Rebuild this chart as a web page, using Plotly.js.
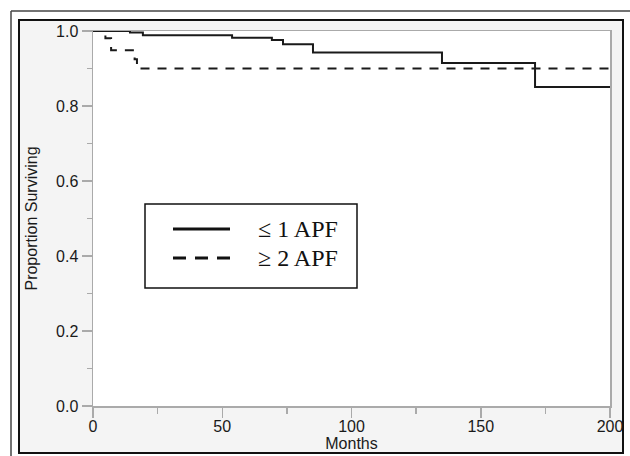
<!DOCTYPE html>
<html>
<head>
<meta charset="utf-8">
<script src="https://cdn.plot.ly/plotly-3.0.1.min.js"></script>
<style>html,body{margin:0;padding:0;background:#fff;}#chart{width:630px;height:456px;}</style>
</head>
<body>
<div id="chart"></div>
<script>
// Kaplan-Meier step data
const lowMonths = [0, 14.3, 19.3, 53.8, 69.2, 73.5, 85.1, 135.0, 171.0, 200];
const lowSurv   = [1.0, 0.996, 0.989, 0.982, 0.976, 0.965, 0.943, 0.915, 0.851, 0.851];
const highMonths = [0, 4.8, 7.0, 16.1, 17.0, 200];
const highSurv   = [1.0, 0.981, 0.949, 0.925, 0.900, 0.900];
const legendLabels = ["\u2264 1 APF", "\u2265 2 APF"];
const xTicks = [0, 50, 100, 150, 200];
const yTicks = [0, 0.2, 0.4, 0.6, 0.8, 1.0];

const W = 630, H = 456;
const M = {l: 93, r: 20, t: 31, b: 50};
const pw = W - M.l - M.r, ph = H - M.t - M.b;
const px = v => (v - M.l) / pw;
const py = v => (H - M.b - v) / ph;

const traces = [
  {x: lowMonths, y: lowSurv, mode: 'lines', line: {shape: 'hv', color: '#1a1a1a', width: 2}, name: legendLabels[0], hoverinfo: 'skip'},
  {x: highMonths, y: highSurv, mode: 'lines', line: {shape: 'hv', color: '#1a1a1a', width: 2, dash: '9px,8px'}, name: legendLabels[1], hoverinfo: 'skip'}
];

const shapes = [
  // inner grey panel with black frame
  {type: 'rect', xref: 'paper', yref: 'paper', x0: px(19), x1: px(623), y0: py(453), y1: py(20),
   fillcolor: '#f4f4f4', line: {color: '#111', width: 2}, layer: 'below'},
  // white plotting area
  {type: 'rect', xref: 'paper', yref: 'paper', x0: 0, x1: 1, y0: 0, y1: 1,
   fillcolor: '#ffffff', line: {width: 0}, layer: 'below'},
  // outer thin frame
  {type: 'line', xref: 'paper', yref: 'paper', x0: px(11), x1: px(640), y0: py(11), y1: py(11), line: {color: '#444', width: 1.5}, layer: 'below'},
  {type: 'line', xref: 'paper', yref: 'paper', x0: px(11), x1: px(11), y0: py(11), y1: py(470), line: {color: '#444', width: 1.5}, layer: 'below'},
  // legend box
  {type: 'rect', xref: 'paper', yref: 'paper', x0: px(145), x1: px(357), y0: py(288), y1: py(204),
   fillcolor: '#fff', line: {color: '#111', width: 1.5}},
  {type: 'line', xref: 'paper', yref: 'paper', x0: px(173), x1: px(230), y0: py(229), y1: py(229), line: {color: '#111', width: 3}},
  {type: 'line', xref: 'paper', yref: 'paper', x0: px(173), x1: px(231), y0: py(258), y1: py(258), line: {color: '#111', width: 3, dash: '13px,9px'}}
];

const annotations = legendLabels.map((t, i) => ({
  xref: 'paper', yref: 'paper', x: px(256), y: py(i === 0 ? 229 : 258),
  xanchor: 'left', yanchor: 'middle', showarrow: false, text: t,
  font: {family: 'Liberation Serif, Times New Roman, serif', size: 24, color: '#111'}
}));

const axisFont = {family: 'Liberation Sans, Arial, sans-serif', size: 16, color: '#1a1a1a'};

const layout = {
  width: W, height: H,
  margin: M,
  paper_bgcolor: '#fff',
  plot_bgcolor: 'rgba(0,0,0,0)',
  showlegend: false,
  font: axisFont,
  xaxis: {
    range: [0, 200], tickvals: xTicks, ticktext: xTicks.map(String),
    ticks: 'outside', ticklen: 10, tickcolor: '#aaa', tickwidth: 1.5,
    minor: {dtick: 25, ticks: 'outside', ticklen: 6, tickcolor: '#aaa', tickwidth: 1.5},
    showline: true, linecolor: '#aaa', linewidth: 1.5, mirror: true,
    showgrid: false, zeroline: false, tickfont: axisFont, ticklabelstandoff: -5,
    title: {text: 'Months', font: axisFont, standoff: 0}
  },
  yaxis: {
    range: [0, 1], tickvals: yTicks, ticktext: yTicks.map(v => v.toFixed(1)),
    ticks: 'outside', ticklen: 10, tickcolor: '#aaa', tickwidth: 1.5,
    minor: {dtick: 0.1, ticks: 'outside', ticklen: 5, tickcolor: '#aaa', tickwidth: 1.5},
    showline: true, linecolor: '#aaa', linewidth: 1.5, mirror: true,
    showgrid: false, zeroline: false, tickfont: axisFont,
    title: {text: 'Proportion Surviving', font: axisFont, standoff: 14}
  },
  shapes: shapes,
  annotations: annotations
};

Plotly.newPlot('chart', traces, layout, {displayModeBar: false, staticPlot: true});
</script>
</body>
</html>
